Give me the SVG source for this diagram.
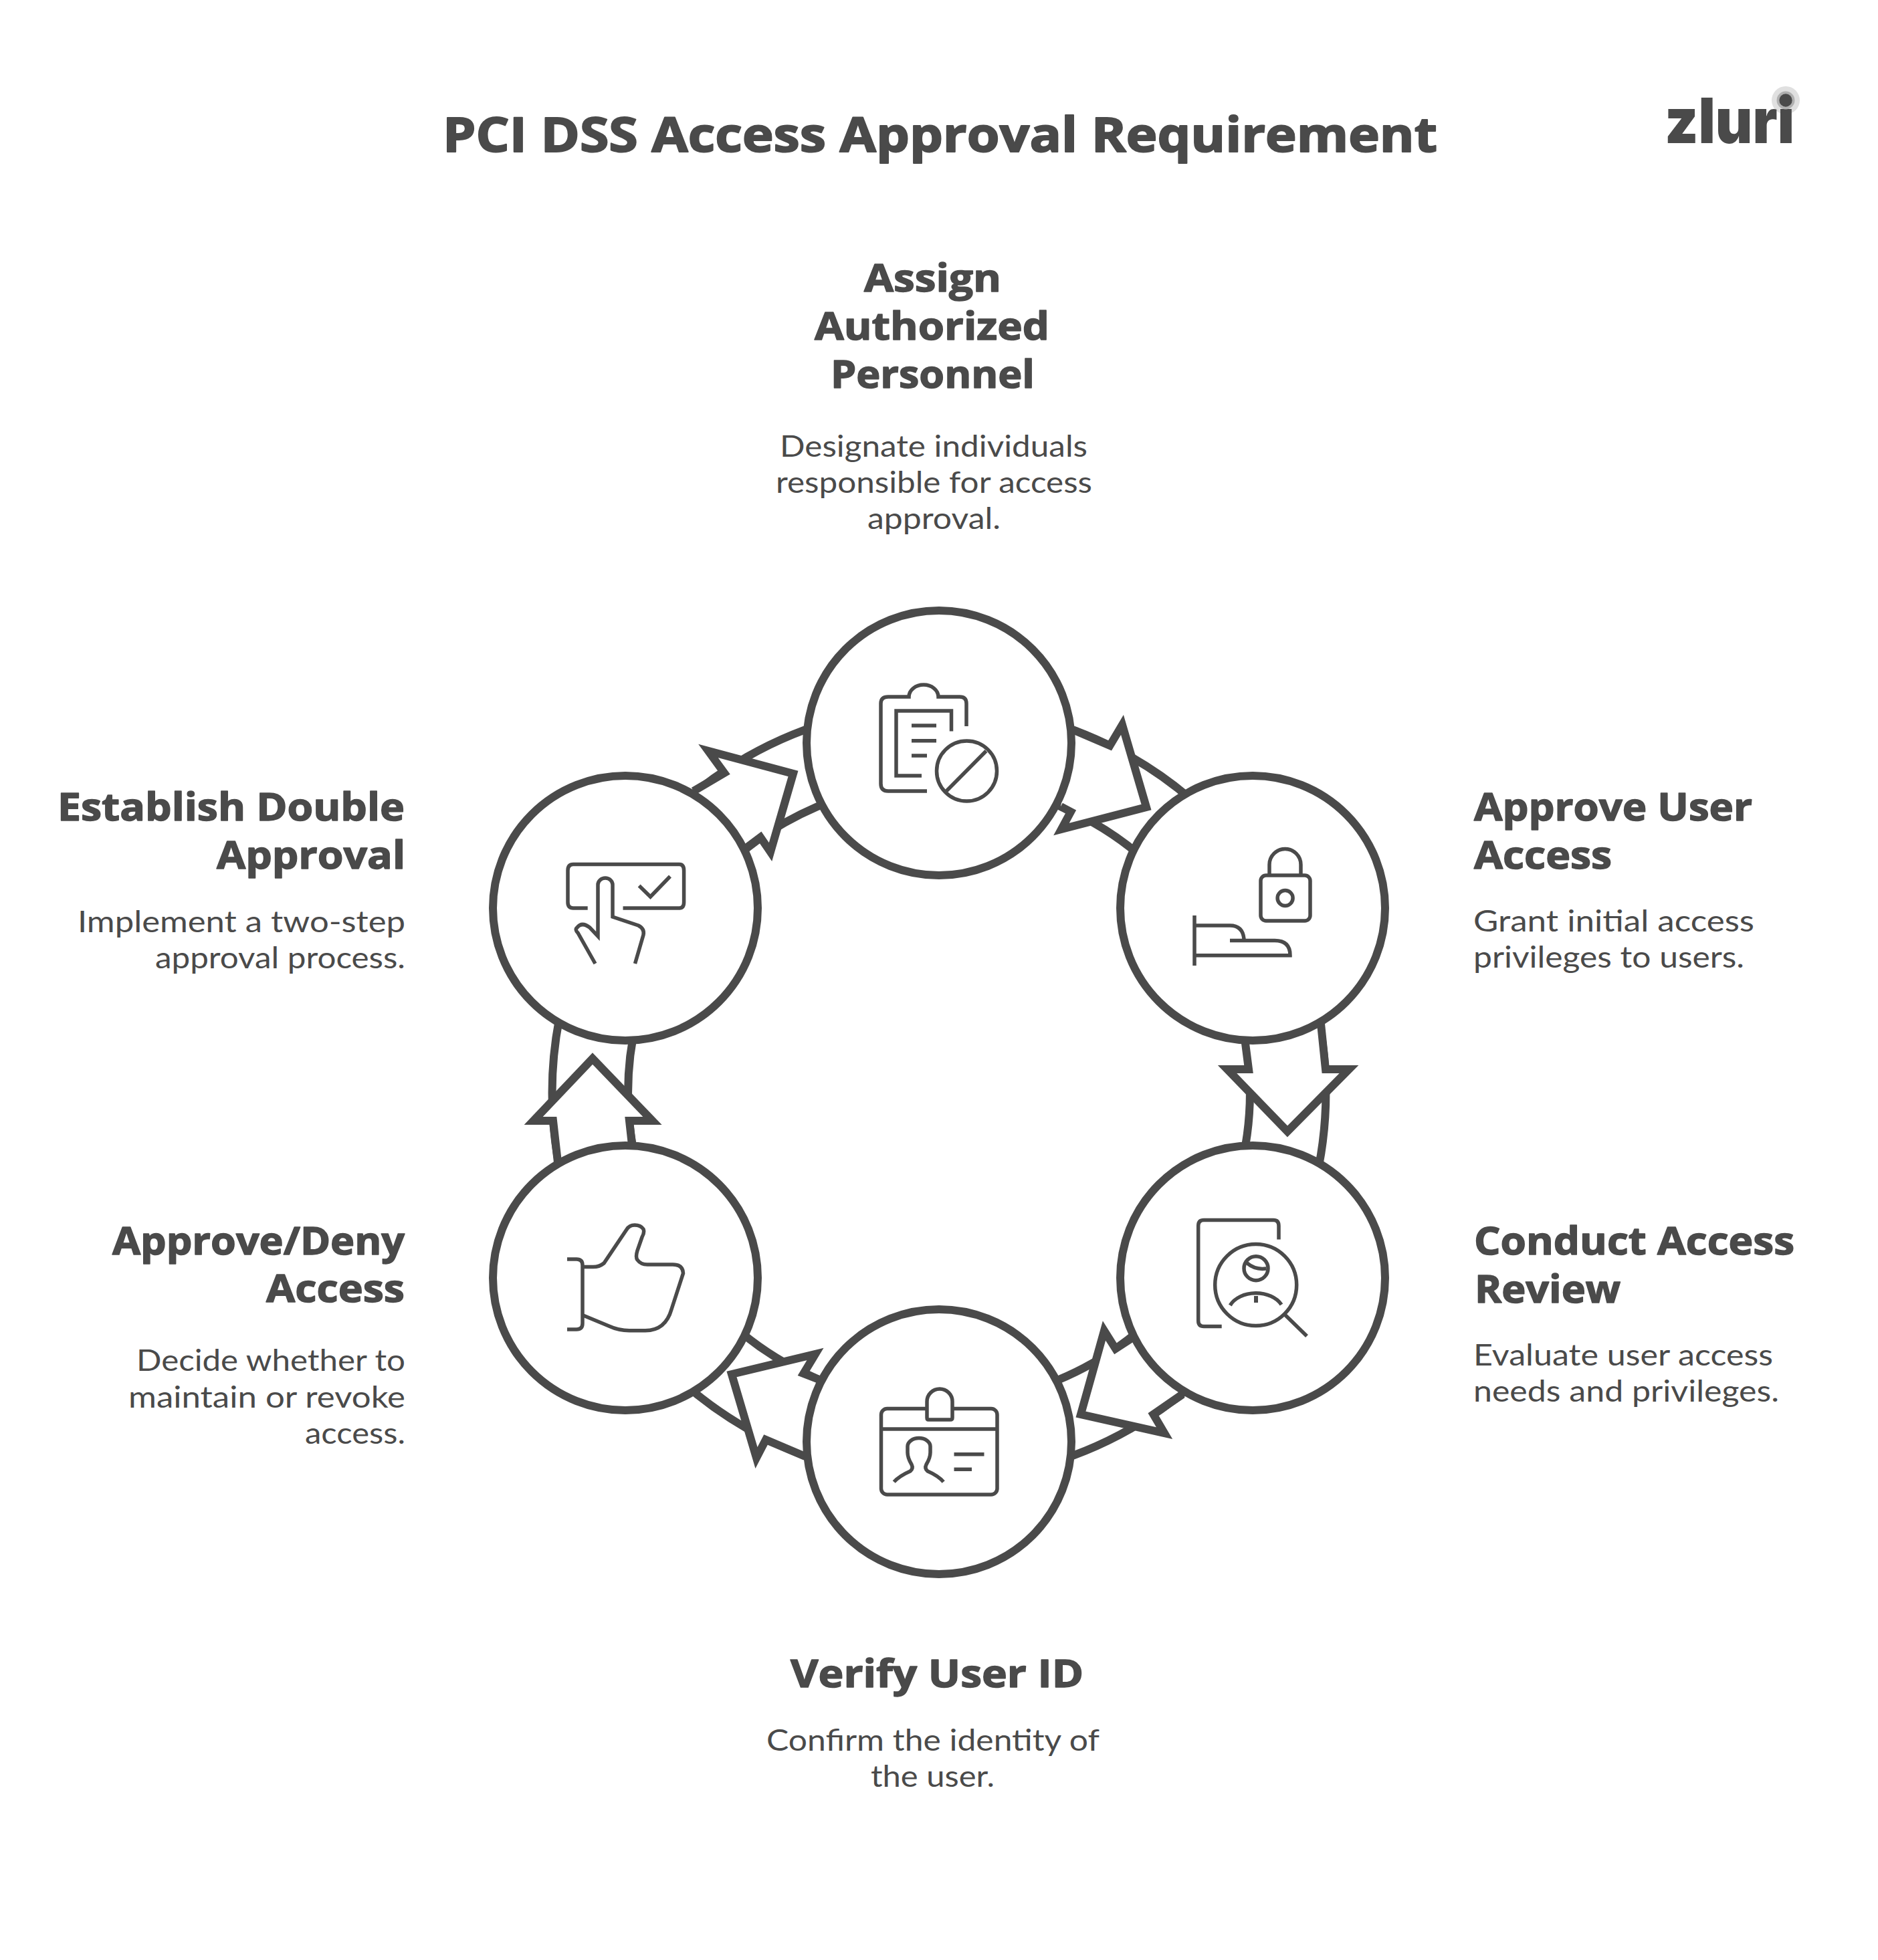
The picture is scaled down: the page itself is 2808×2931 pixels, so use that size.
<svg xmlns="http://www.w3.org/2000/svg" width="2808" height="2931" viewBox="0 0 2808 2931">
<style>
text{fill:#4a4a4a}
.t{font-family:"Open Sans","Noto Sans",sans-serif;font-weight:700;font-size:72px;stroke:#4a4a4a;stroke-width:2;stroke-linejoin:round}
.h{font-family:"Open Sans","Noto Sans",sans-serif;font-weight:700;font-size:58px;stroke:#4a4a4a;stroke-width:1.5;stroke-linejoin:round}
.d{font-family:"Lato","Noto Sans",sans-serif;font-weight:400;font-size:44px}
.logo{font-family:"Inter","Liberation Sans",sans-serif;font-weight:900;font-size:93px}
.c{fill:#fff;stroke:#4a4a4a;stroke-width:12}
.i{fill:none;stroke:#4a4a4a;stroke-width:5.5;stroke-miterlimit:10}
.a{fill:none;stroke:#4a4a4a;stroke-width:12}
.p{fill:#fff;stroke:#4a4a4a;stroke-width:12;stroke-miterlimit:12}
</style>
<rect width="2808" height="2931" fill="#fff"/>
<text id="title" class="t" x="662" y="227" textLength="1487" lengthAdjust="spacingAndGlyphs">PCI DSS Access Approval Requirement</text>
<g id="logo">
<circle cx="2670" cy="150" r="21" fill="#e0e0e0"/>
<text class="logo" x="2489" y="214" textLength="194" lengthAdjust="spacingAndGlyphs">zluri</text>
<circle cx="2670" cy="150" r="13.5" fill="#b0b0b0"/>
<circle cx="2670" cy="150" r="9.7" fill="#4a4a4a"/>
</g>
<g id="connectors">
<g id="c1"><path class="a" d="M1404 1055.5A578.5 578.5 0 0 1 1902.4 1340.4M1404 1169A465 465 0 0 1 1804.6 1398"/><path class="p" d="M1606 1092L1659.5 1115L1678 1084L1714 1207L1587 1240L1601 1214L1586 1206"/></g>
<g id="c2"><path class="a" d="M1902.4 1340.4A578.5 578.5 0 0 1 1902.4 1927.6M1804.6 1398A465 465 0 0 1 1804.6 1870"/><path class="p" d="M1975 1531L1982 1599L2017 1599L1925 1692L1835 1599L1867 1599L1862 1560"/></g>
<g id="c3"><path class="a" d="M1768 2085L1724.5 2115M1902.4 1927.6A578.5 578.5 0 0 1 1404 2212.5M1804.6 1870A465 465 0 0 1 1404 2099"/><path class="p" d="M1768 2085L1724.5 2115L1741 2143L1616 2115L1651 1990L1668 2017L1694 2000"/></g>
<g id="c4"><path class="a" d="M1404 2212.5A578.5 578.5 0 0 1 905.6 1927.6M1404 2099A465 465 0 0 1 1003.4 1870"/><path class="p" d="M1204 2178L1145 2153L1131 2180L1094 2055L1219 2025L1201.5 2054L1224.5 2063"/></g>
<g id="c5"><path class="a" d="M905.6 1927.6A578.5 578.5 0 0 1 905.6 1340.4M1003.4 1870A465 465 0 0 1 1003.4 1398"/><path class="p" d="M834 1738L827 1676L797.6 1676L886 1583L975.5 1676L941 1676L945 1712"/></g>
<g id="c6"><path class="a" d="M905.6 1340.4A578.5 578.5 0 0 1 1404 1055.5M1003.4 1398A465 465 0 0 1 1404 1169"/><path class="p" d="M1037 1183L1083 1156L1059 1123L1186 1157L1152 1274L1137 1252L1117 1267"/></g>
</g>
<g id="node-assign">
<circle class="c" cx="1404" cy="1111" r="198"/>
<g class="i">
<path d="M1386 1183H1328Q1317 1183 1317 1172V1052Q1317 1042 1328 1042H1359A22 18 0 0 1 1403 1042H1435Q1445 1042 1445 1052V1086"/>
<path d="M1378 1160H1340V1063H1422.5V1093.5"/>
<path d="M1363 1085H1400M1363 1107.7H1400M1363 1130H1386"/>
<circle cx="1445.5" cy="1153" r="45"/>
<path d="M1474.5 1123L1415 1183"/>
</g>
<text class="h" x="1292" y="435.5" textLength="205" lengthAdjust="spacingAndGlyphs">Assign</text>
<text class="h" x="1218" y="507.5" textLength="351" lengthAdjust="spacingAndGlyphs">Authorized</text>
<text class="h" x="1242" y="579.5" textLength="305" lengthAdjust="spacingAndGlyphs">Personnel</text>
<text class="d" x="1166" y="683" textLength="460" lengthAdjust="spacingAndGlyphs">Designate individuals</text>
<text class="d" x="1160" y="737" textLength="473" lengthAdjust="spacingAndGlyphs">responsible for access</text>
<text class="d" x="1297" y="791" textLength="199" lengthAdjust="spacingAndGlyphs">approval.</text>
</g>
<g id="node-approve-user">
<circle class="c" cx="1873" cy="1358" r="198"/>
<g class="i">
<path d="M1898 1307V1293A23.5 23.5 0 0 1 1945 1293V1307"/>
<rect x="1885" y="1309" width="74" height="68" rx="8"/>
<circle cx="1921.6" cy="1343" r="11.5"/>
<path d="M1786 1369V1444M1786 1384H1839Q1858 1384 1860 1404M1839 1406.6H1906Q1929 1406.6 1929 1428.7H1786"/>
</g>
<text class="h" x="2204" y="1227" textLength="416" lengthAdjust="spacingAndGlyphs">Approve User</text>
<text class="h" x="2204" y="1299" textLength="206" lengthAdjust="spacingAndGlyphs">Access</text>
<text class="d" x="2203" y="1393" textLength="420" lengthAdjust="spacingAndGlyphs">Grant initial access</text>
<text class="d" x="2203" y="1447" textLength="405" lengthAdjust="spacingAndGlyphs">privileges to users.</text>
</g>
<g id="node-review">
<circle class="c" cx="1873" cy="1911" r="198"/>
<g class="i">
<path d="M1826.7 1983.5H1800Q1791.7 1983.5 1791.7 1975V1833Q1791.7 1824.5 1800 1824.5H1904Q1912 1824.5 1912 1833V1853.6"/>
<circle cx="1877.7" cy="1921.5" r="61"/>
<path d="M1921.7 1966.5L1954 1998"/>
<circle cx="1878" cy="1896.7" r="18"/>
<path d="M1864 1888.4Q1877 1899.5 1893.3 1897"/>
<path d="M1839.3 1952A42 30 0 0 1 1916 1951"/>
<rect x="1875" y="1938" width="6" height="10" fill="#4a4a4a" stroke="none"/>
</g>
<text class="h" x="2204" y="1875.5" textLength="479" lengthAdjust="spacingAndGlyphs">Conduct Access</text>
<text class="h" x="2205" y="1947.5" textLength="218" lengthAdjust="spacingAndGlyphs">Review</text>
<text class="d" x="2203" y="2041.5" textLength="448" lengthAdjust="spacingAndGlyphs">Evaluate user access</text>
<text class="d" x="2203" y="2096" textLength="457" lengthAdjust="spacingAndGlyphs">needs and privileges.</text>
</g>
<g id="node-verify">
<circle class="c" cx="1404" cy="2156" r="198"/>
<g class="i">
<rect x="1317.5" y="2106.5" width="173.5" height="128.5" rx="9"/>
<path d="M1317.5 2137H1491"/>
<path d="M1388 2123Q1386 2123 1386 2120V2096A19 19 0 0 1 1424 2096V2120Q1424 2123 1421 2123Z" fill="#fff"/>
<path d="M1336.7 2216Q1345 2207 1361 2200Q1366 2196 1363 2190Q1357 2180 1357 2172V2163A17 12.5 0 0 1 1391 2163V2172Q1391 2180 1385 2190Q1382 2196 1387 2200Q1403 2207 1410.7 2216"/>
<path d="M1426.5 2174.7H1471.5M1426.5 2197.3H1453"/>
</g>
<text class="h" x="1182" y="2523" textLength="438" lengthAdjust="spacingAndGlyphs">Verify User ID</text>
<text class="d" x="1146" y="2618" textLength="498" lengthAdjust="spacingAndGlyphs">Confirm the identity of</text>
<text class="d" x="1302" y="2671.5" textLength="185" lengthAdjust="spacingAndGlyphs">the user.</text>
</g>
<g id="node-decide">
<circle class="c" cx="935" cy="1911" r="198"/>
<g class="i">
<path d="M848 1883H862Q871 1883 871 1892V1979Q871 1988 862 1988H848"/>
<path d="M871 1894.6H887Q896 1894.6 903 1889L937 1838.5Q941 1832 949 1832Q958 1832 962 1838Q964 1843 960 1850L953 1870Q950 1880 953 1884Q958 1891 968 1891H1006Q1021 1891 1021.5 1904L1004 1958Q995 1989.7 965 1989.7H941Q925 1989.7 910.5 1983L872 1967"/>
</g>
<text class="h" x="168" y="1875.5" textLength="437" lengthAdjust="spacingAndGlyphs">Approve/Deny</text>
<text class="h" x="398" y="1947" textLength="207" lengthAdjust="spacingAndGlyphs">Access</text>
<text class="d" x="204" y="2050" textLength="402" lengthAdjust="spacingAndGlyphs">Decide whether to</text>
<text class="d" x="192" y="2105" textLength="414" lengthAdjust="spacingAndGlyphs">maintain or revoke</text>
<text class="d" x="456" y="2159" textLength="150" lengthAdjust="spacingAndGlyphs">access.</text>
</g>
<g id="node-double">
<circle class="c" cx="935" cy="1358" r="198"/>
<g class="i">
<path d="M878.7 1358H857Q849 1358 849 1349V1302Q849 1292.6 857 1292.6H1015.7Q1022.6 1292.6 1022.6 1302V1349Q1022.6 1358 1015.7 1358H931.5"/>
<path d="M955.6 1324.5L972.5 1341L1002 1310.5"/>
<path d="M949.5 1441L962 1398Q964 1389 954.5 1384L916 1371V1323A11 10 0 0 0 894 1323V1400L881.8 1387Q870 1378 863 1387Q859 1390 864 1395L890 1441"/>
</g>
<text class="h" x="86" y="1227" textLength="519" lengthAdjust="spacingAndGlyphs">Establish Double</text>
<text class="h" x="324" y="1299" textLength="282" lengthAdjust="spacingAndGlyphs">Approval</text>
<text class="d" x="116" y="1394" textLength="490" lengthAdjust="spacingAndGlyphs">Implement a two-step</text>
<text class="d" x="232" y="1447.5" textLength="374" lengthAdjust="spacingAndGlyphs">approval process.</text>
</g>
</svg>
